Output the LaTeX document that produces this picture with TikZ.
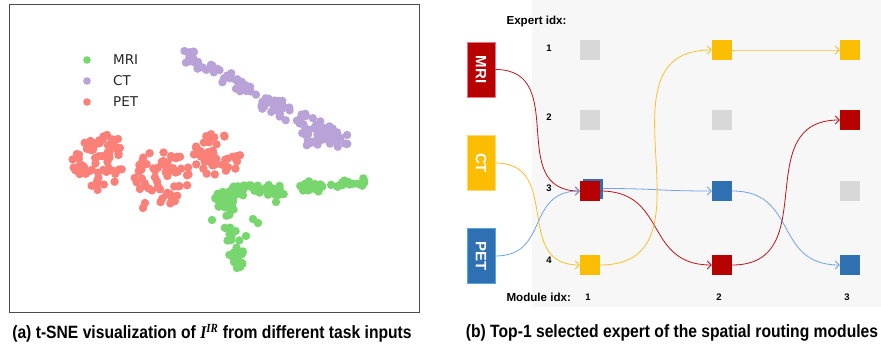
\documentclass[tikz,border=0pt]{standalone}
\usepackage{fontspec}
\setmainfont{Liberation Sans}
\newfontfamily\legendfont{DejaVu Sans}
\newfontfamily\capfont[FakeStretch=0.88]{Liberation Sans}
\newfontfamily\capserif[FakeStretch=0.88]{Liberation Serif}
\usetikzlibrary{positioning,arrows.meta}

\definecolor{mrifill}{RGB}{183,0,0}
\definecolor{ctfill}{RGB}{250,189,0}
\definecolor{petfill}{RGB}{46,112,178}
\definecolor{mriline}{RGB}{190,20,25}
\definecolor{ctline}{RGB}{250,192,40}
\definecolor{petline}{RGB}{115,163,230}
\definecolor{idle}{RGB}{216,216,216}
\definecolor{panel}{RGB}{247,247,247}
\definecolor{mridot}{RGB}{120,214,110}
\definecolor{ctdot}{RGB}{184,162,215}
\definecolor{petdot}{RGB}{250,128,120}

% scatter helpers: colour, centre x, centre y, spread x, spread y, count
\newcommand{\dotcloud}[6]{%
  \foreach \k in {1,...,#6}{
    \pgfmathsetmacro{\ang}{360*rnd}
    \pgfmathsetmacro{\rad}{sqrt(rnd)}
    \fill[#1] ({#2+#4*\rad*cos(\ang)},{#3+#5*\rad*sin(\ang)}) circle (4.2);
  }}
% colour, x1, y1, x2, y2, half width, count
\newcommand{\dotband}[7]{%
  \foreach \k in {1,...,#7}{
    \pgfmathsetmacro{\pos}{rnd}
    \pgfmathsetmacro{\ang}{360*rnd}
    \pgfmathsetmacro{\rad}{#6*sqrt(rnd)}
    \fill[#1] ({#2+(#4-#2)*\pos+\rad*cos(\ang)},{#3+(#5-#3)*\pos+\rad*sin(\ang)}) circle (4.2);
  }}

\begin{document}
\begin{tikzpicture}[x=1pt,y=-1pt,on grid,
  expert/.style={minimum size=20pt,inner sep=0pt},
  modality/.style={minimum width=28pt,minimum height=55pt,inner sep=0pt,
    text=white,font=\bfseries\fontsize{15}{15}\selectfont,line width=.8pt},
  idx/.style={font=\bfseries\fontsize{9.5}{10}\selectfont},
  head/.style={font=\bfseries\fontsize{11.6}{12}\selectfont,anchor=west},
  route/.style={-{Straight Barb[length=4pt,width=8pt]},line width=.8pt,out=0,in=180,looseness=1.3},
  caption/.style={font=\capfont\bfseries\fontsize{17.8}{18}\selectfont}]
\useasboundingbox[fill=white] (0,0) rectangle (881,350);

% ---- (a) t-SNE scatter ----
\draw[black!70,line width=.8pt] (9,4) rectangle (419,312);
\pgfmathsetseed{17}
% CT
\dotband{ctdot}{186}{55}{250}{90}{7}{45}
\dotband{ctdot}{258}{98}{343}{142}{9}{60}
\dotcloud{ctdot}{320}{136}{20}{13}{30}
% PET
\dotcloud{petdot}{99}{162}{27}{28}{65}
\dotcloud{petdot}{162}{177}{28}{28}{60}
\dotcloud{petdot}{218}{155}{25}{22}{45}
\foreach \p in {(107,135),(118,139),(145,203),(143,208),(172,196),(208,140)}
  \fill[petdot] \p circle (4.2);
% MRI
\dotband{mridot}{215}{203}{240}{190}{8}{30}
\dotband{mridot}{235}{190}{280}{191}{6}{30}
\dotcloud{mridot}{312}{187}{12}{6}{22}
\dotband{mridot}{332}{184}{364}{182}{4}{18}
\dotband{mridot}{226}{200}{238}{264}{7}{38}
\foreach \p in {(212,220),(253,219),(258,223),(246,236),(276,202),(242,263),(237,268)}
  \fill[mridot] \p circle (4.2);

% legend
\fill[mridot] (87,60) circle (3.8);
\fill[ctdot] (87,81) circle (3.8);
\fill[petdot] (87,102) circle (3.8);
\node[anchor=west,inner sep=0pt,font=\legendfont\fontsize{13.5}{14}\selectfont,text=black!85] (lgmri) at (113,60) {MRI};
\node[anchor=west,inner sep=0pt,font=\legendfont\fontsize{13.5}{14}\selectfont,text=black!85] (lgct) at (113,81) {CT};
\node[anchor=west,inner sep=0pt,font=\legendfont\fontsize{13.5}{14}\selectfont,text=black!85] (lgpet) at (113,102) {PET};

% ---- (b) routing of the experts ----
\fill[panel] (532,0) rectangle (881,307);

\node[head] (exphead) at (503,22) {Expert idx:};
\node[head] (modhead) at (503,297) {Module idx:};

% module 1
\node[expert,fill=idle] (m1e1) at (590,50) {};
\node[expert,fill=idle] (m1e2) [below=70pt of m1e1] {};
\node[expert,fill=petfill] (m1e3b) at (593,188.5) {};
\node[expert,fill=mrifill] (m1e3) [below=71pt of m1e2] {};
\node[expert,fill=ctfill] (m1e4) [below=74pt of m1e3] {};
% module 2
\node[expert,fill=ctfill] (m2e1) [right=132pt of m1e1] {};
\node[expert,fill=idle] (m2e2) [below=70pt of m2e1] {};
\node[expert,fill=petfill] (m2e3) [below=71pt of m2e2] {};
\node[expert,fill=mrifill] (m2e4) [below=74pt of m2e3] {};
% module 3
\node[expert,fill=ctfill] (m3e1) [right=128pt of m2e1] {};
\node[expert,fill=mrifill] (m3e2) [below=70pt of m3e1] {};
\node[expert,fill=idle] (m3e3) [below=71pt of m3e2] {};
\node[expert,fill=petfill] (m3e4) [below=74pt of m3e3] {};

% expert and module numbers
\node[idx] (r1) at (549,48) {1};
\node[idx] (r2) at (549,117) {2};
\node[idx] (r3) at (549,188) {3};
\node[idx] (r4) at (549,260) {4};
\node[idx] (c1) at (588,297) {1};
\node[idx] (c2) at (719,297) {2};
\node[idx] (c3) at (847,297) {3};

% inputs, text turned to read downwards
\node[modality,fill=mrifill,draw={rgb,255:red,230;green,120;blue,130}] (mri) at (481,69.5) {\rotatebox{-90}{MRI}};
\node[modality,fill=ctfill,draw={rgb,255:red,255;green,215;blue,120}] (ct) [below=93.5pt of mri] {\rotatebox{-90}{CT}};
\node[modality,fill=petfill,draw={rgb,255:red,80;green,170;blue,225}] (pet) [below=93pt of ct] {\rotatebox{-90}{PET}};

% routes
\draw[route,mriline] (mri.east) to (m1e3.west);
\draw[route,ctline] (ct.east) to (m1e4.west);
\draw[route,petline] (pet.east) to (m1e3.west);
\draw[route,petline] (m1e3b.east) to (m2e3.west);
\draw[route,mriline] (m1e3.east) to (m2e4.west);
\draw[route,ctline] (m1e4.east) to (m2e1.west);
\draw[route,ctline] (m2e1.east) to (m3e1.west);
\draw[route,petline] (m2e3.east) to (m3e4.west);
\draw[route,mriline] (m2e4.east) to (m3e2.west);

% captions
\node[caption] (capa) at (212,333) {(a) t-SNE visualization of {\capserif\itshape I}\textsuperscript{\capserif\itshape IR} from different task inputs};
\node[caption] (capb) at (672,333) {(b) Top-1 selected expert of the spatial routing modules};
\end{tikzpicture}
\end{document}
